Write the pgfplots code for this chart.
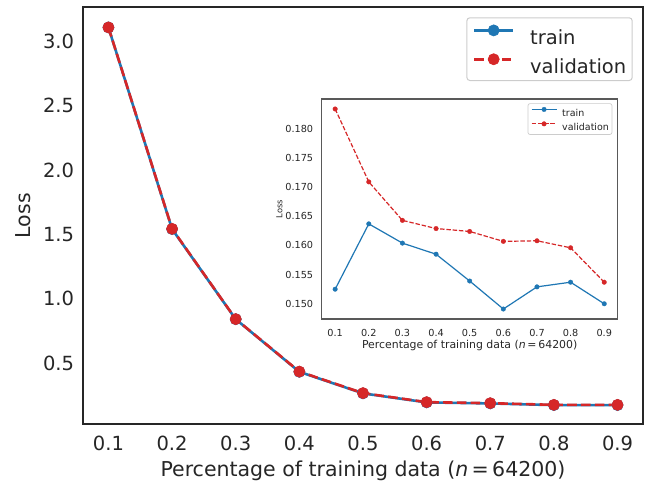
\documentclass[border=0pt]{standalone}
\usepackage{pgfplots}
\pgfplotsset{compat=1.18}
\usepackage{fontspec}
\setmainfont{DejaVu Sans}
\definecolor{tabblue}{HTML}{1F77B4}
\definecolor{tabred}{HTML}{D62728}
\definecolor{txt}{HTML}{262626}

\pgfplotstableread{
x     train   val
0.1   3.105   3.105
0.2   1.541   1.543
0.3   0.842   0.843
0.4   0.434   0.436
0.5   0.267   0.269
0.6   0.197   0.199
0.7   0.189   0.191
0.8   0.176   0.178
0.9   0.176   0.178
}\maindata

\pgfplotstableread{
x     train    val
0.1   0.1525   0.1834
0.2   0.1637   0.1709
0.3   0.1604   0.1643
0.4   0.1585   0.1629
0.5   0.1539   0.1624
0.6   0.1491   0.1607
0.7   0.1529   0.1608
0.8   0.1537   0.1596
0.9   0.1500   0.1537
}\insetdata

\begin{document}
\begin{tikzpicture}
\path (0pt,0pt) rectangle (646pt,483pt);
% ---------------- main axis ----------------
\begin{axis}[
  at={(83pt,59pt)}, anchor=south west,
  scale only axis, width=560pt, height=416.7pt,
  xmin=0.06, xmax=0.94, ymin=0.0295, ymax=3.261,
  xtick={0.1,0.2,0.3,0.4,0.5,0.6,0.7,0.8,0.9},
  ytick={0.5,1.0,1.5,2.0,2.5,3.0},
  major tick length=0pt,
  axis line style={draw=txt, line width=2pt},
  /pgf/number format/assume math mode=true,
  ticklabel style={font=\fontsize{19.5}{20}\selectfont, text=txt, inner sep=0pt},
  xticklabel style={/pgf/number format/.cd, fixed, fixed zerofill, precision=1},
  yticklabel style={/pgf/number format/.cd, fixed, fixed zerofill, precision=1},
  xticklabel shift=12pt,
  yticklabel shift=8.7pt,
  xlabel={Percentage of training data (\textit{n}\,=\,64200)},
  ylabel={Loss},
  label style={font=\fontsize{20.5}{22}\selectfont, text=txt, inner sep=0pt},
  xlabel style={at={(axis description cs:0.5,-0.127)}, anchor=base},
  ylabel style={at={(axis description cs:-0.0946,0.5)}, anchor=base, rotate=0},
  legend style={at={(1,1)}, anchor=north east, xshift=-10.3pt, yshift=-10pt,
    draw=black!20, line width=1pt, rounded corners=3pt, fill=white,
    font=\fontsize{19.5}{20}\selectfont, text=txt,
    inner xsep=6pt, inner ysep=7pt, row sep=9pt,
    nodes={inner sep=0pt, text height=14.5pt, text depth=0pt},
    /tikz/every odd column/.append style={column sep=15.7pt}},
  legend cell align=left,
  legend image code/.code={\draw[mark repeat=2, mark phase=2, #1] plot coordinates {(0pt,7pt) (19.5pt,7pt) (39pt,7pt)};},
]
\addplot[tabblue, line width=2.6pt, mark=*, mark size=5.6pt, mark options={solid, line width=0.6pt}] table[x=x, y=train] {\maindata};
\addlegendentry{train}
\addplot[tabred, line width=2.6pt, dash pattern=on 9.6pt off 4.2pt, mark=*, mark size=5.6pt, mark options={solid, line width=0.6pt}] table[x=x, y=val] {\maindata};
\addlegendentry{validation}
\end{axis}
% ---------------- inset axis ----------------
\begin{axis}[
  at={(321.7pt,164pt)}, anchor=south west,
  scale only axis, width=296pt, height=220pt,
  axis background/.style={fill=white},
  xmin=0.06, xmax=0.94, ymin=0.14739, ymax=0.18511,
  xtick={0.1,0.2,0.3,0.4,0.5,0.6,0.7,0.8,0.9},
  ytick={0.150,0.155,0.160,0.165,0.170,0.175,0.180},
  major tick length=0pt,
  axis line style={draw=black!65, line width=1.3pt},
  /pgf/number format/assume math mode=true,
  ticklabel style={font=\fontsize{9.7}{10}\selectfont, text=txt, inner sep=0pt},
  xticklabel style={/pgf/number format/.cd, fixed, fixed zerofill, precision=1},
  yticklabel style={/pgf/number format/.cd, fixed, fixed zerofill, precision=3},
  xticklabel shift=10pt,
  yticklabel shift=8.4pt,
  xlabel={Percentage of training data (\textit{n}\,=\,64200)},
  ylabel={Loss},
  xlabel style={font=\fontsize{10.9}{12}\selectfont, text=txt, inner sep=0pt, at={(axis description cs:0.5,-0.136)}, anchor=base},
  ylabel style={font=\fontsize{8.3}{9}\selectfont, text=txt, inner sep=0pt, at={(axis description cs:-0.133,0.5)}, anchor=base, rotate=0},
  legend style={at={(1,1)}, anchor=north east, xshift=-5.4pt, yshift=-4.3pt,
    draw=black!20, line width=0.7pt, rounded corners=2pt, fill=white,
    font=\fontsize{9.5}{10}\selectfont, text=txt,
    inner xsep=3pt, inner ysep=3.5pt, row sep=5pt,
    nodes={inner sep=0pt, text height=7.2pt, text depth=0pt},
    /tikz/every odd column/.append style={column sep=5pt}},
  legend cell align=left,
  legend image code/.code={\draw[mark repeat=2, mark phase=2, #1] plot coordinates {(0pt,3.5pt) (12.5pt,3.5pt) (25pt,3.5pt)};},
]
\addplot[tabblue, line width=1.2pt, mark=*, mark size=2.3pt, mark options={solid, line width=0.3pt}] table[x=x, y=train] {\insetdata};
\addlegendentry{train}
\addplot[tabred, line width=1.2pt, dash pattern=on 4.4pt off 1.9pt, mark=*, mark size=2.3pt, mark options={solid, line width=0.3pt}] table[x=x, y=val] {\insetdata};
\addlegendentry{validation}
\end{axis}
\end{tikzpicture}
\end{document}
